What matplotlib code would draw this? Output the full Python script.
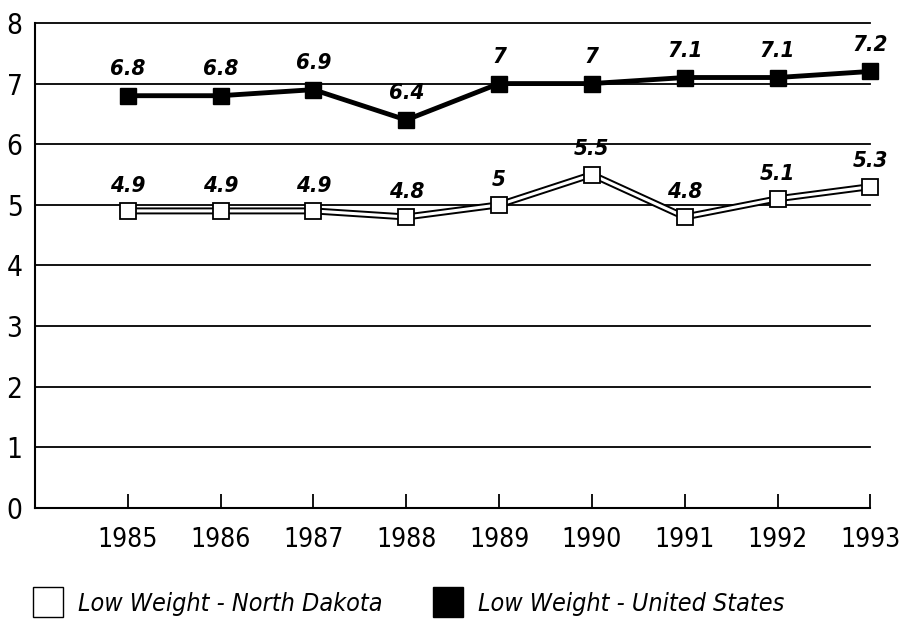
import matplotlib.pyplot as plt
from matplotlib.lines import Line2D

years = [1985, 1986, 1987, 1988, 1989, 1990, 1991, 1992, 1993]
north_dakota = [4.9, 4.9, 4.9, 4.8, 5.0, 5.5, 4.8, 5.1, 5.3]
united_states = [6.8, 6.8, 6.9, 6.4, 7.0, 7.0, 7.1, 7.1, 7.2]
nd_labels = ['4.9', '4.9', '4.9', '4.8', '5', '5.5', '4.8', '5.1', '5.3']
us_labels = ['6.8', '6.8', '6.9', '6.4', '7', '7', '7.1', '7.1', '7.2']
yticks = [0, 1, 2, 3, 4, 5, 6, 7, 8]

plt.rcParams['font.family'] = ['DejaVu Sans']
plt.rcParams['font.stretch'] = 'condensed'


def main():
    fig = plt.figure(figsize=(9.08, 6.2), dpi=100)
    ax = fig.add_axes([0.0385, 0.1806, 0.920, 0.7824])

    for y in yticks[1:]:
        ax.axhline(y, color='black', lw=1.3, zorder=1, clip_on=False)

    # north dakota: hollow double line
    ax.plot(years, north_dakota, color='black', lw=5, zorder=2,
            solid_joinstyle='miter', clip_on=False)
    ax.plot(years, north_dakota, color='white', lw=2.2, zorder=3,
            solid_joinstyle='miter', clip_on=False)
    ax.plot(years, north_dakota, ls='none', marker='s', ms=11,
            mfc='white', mec='black', mew=1.3, zorder=4, clip_on=False)

    ax.plot(years, united_states, color='black', lw=3.5, zorder=2,
            marker='s', ms=12, mfc='black', mec='black', clip_on=False)

    for x, y, s in zip(years, north_dakota, nd_labels):
        ax.annotate(s, (x, y), xytext=(0, 11), textcoords='offset points',
                    ha='center', va='bottom', fontsize=16,
                    fontweight='bold', fontstyle='italic')
    for x, y, s in zip(years, united_states, us_labels):
        ax.annotate(s, (x, y), xytext=(0, 12), textcoords='offset points',
                    ha='center', va='bottom', fontsize=16,
                    fontweight='bold', fontstyle='italic')

    ax.set_xlim(1984, 1993)
    ax.set_ylim(0, 8)
    ax.set_xticks(years)
    ax.set_yticks(yticks)
    ax.tick_params(axis='x', direction='in', length=10, width=1.3,
                   pad=14, labelsize=19)
    ax.tick_params(axis='y', length=0, pad=9, labelsize=20)
    for side in ['top', 'right']:
        ax.spines[side].set_visible(False)
    ax.spines['left'].set_linewidth(1.5)
    ax.spines['bottom'].set_linewidth(1.5)

    handles = [
        Line2D([], [], ls='none', marker='s', ms=22, mfc='white',
               mec='black', mew=1),
        Line2D([], [], ls='none', marker='s', ms=22, mfc='black',
               mec='black'),
    ]
    fig.legend(handles, ['Low Weight - North Dakota', 'Low Weight - United States'],
               loc='lower left', bbox_to_anchor=(0.012, -0.03), ncol=2,
               frameon=False, prop={'size': 18, 'style': 'italic'},
               handletextpad=0.6, columnspacing=2.0, handlelength=1.2)

    fig.savefig('out.png', dpi=100)


main()
